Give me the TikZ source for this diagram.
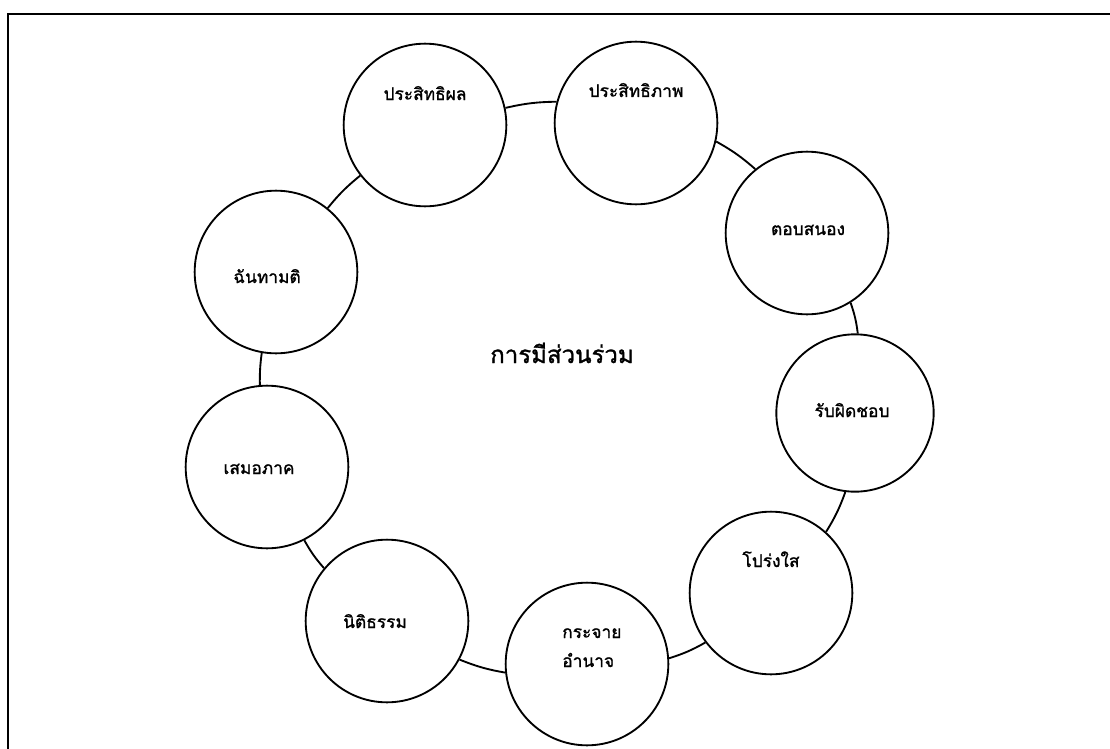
\documentclass[tikz,border=0pt]{standalone}
\usepackage{fontspec}
\setmainfont[Script=Thai,FakeBold=1.3]{Loma}
\begin{document}
\begin{tikzpicture}[x=0.75pt,y=-0.75pt,
  ring/.style={circle,draw,line width=1.4pt,minimum size=122pt,inner sep=0pt},
  lbl/.style={font=\fontsize{13}{15}\selectfont,anchor=base,inner sep=0pt},
  ttl/.style={font=\fontsize{18}{22}\selectfont,anchor=base,inner sep=0pt},
  link/.style={line width=1.4pt},
  frame/.style={line width=1.5pt}]
\useasboundingbox (0,0) rectangle (1110,749);
\draw[frame] (8,749) -- (8,14) -- (1110,14);

\node[ring] (c1) at (425,125) {};
\node[ring] (c2) at (636,123) {};
\node[ring] (c3) at (807,233) {};
\node[ring,minimum size=118pt] (c4) at (855,413) {};
\node[ring] (c5) at (771,593) {};
\node[ring] (c6) at (587,664) {};
\node[ring] (c7) at (387,621) {};
\node[ring] (c8) at (267,467) {};
\node[ring] (c9) at (276,272) {};

\node[lbl] (t1) at (425,100) {ประสิทธิผล};
\node[lbl] (t2) at (636,97) {ประสิทธิภาพ};
\node[lbl] (t3) at (808,235) {ตอบสนอง};
\node[lbl] (t4) at (852,417) {รับผิดชอบ};
\node[lbl] (t5) at (771,567) {โปร่งใส};
\node[lbl,anchor=base west,align=left,font=\fontsize{13}{21.75}\selectfont] (t6) at (562,667) {กระจาย\\อำนาจ};
\node[lbl] (t7) at (375,628) {นิติธรรม};
\node[lbl] (t8) at (259,474) {เสมอภาค};
\node[lbl] (t9) at (267,283) {ฉันทามติ};
\node[ttl] (title) at (562,363) {การมีส่วนร่วม};

\draw[link] (c1.12) to[bend left=6] (c2.165);
\draw[link] (c2.-13) to[bend left=6] (c3.129);
\draw[link] (c3.-58) to[bend left=6] (c4.88);
\draw[link] (c4.-97) to[bend left=6] (c5.48);
\draw[link] (c5.-143) to[bend left=6] (c6.4);
\draw[link] (c6.186) to[bend left=6] (c7.-28);
\draw[link] (c7.140) to[bend left=6] (c8.-63);
\draw[link] (c8.95) to[bend left=4] (c9.-100);
\draw[link] (c9.51) to[bend left=6] (c1.-142);
\end{tikzpicture}
\end{document}
